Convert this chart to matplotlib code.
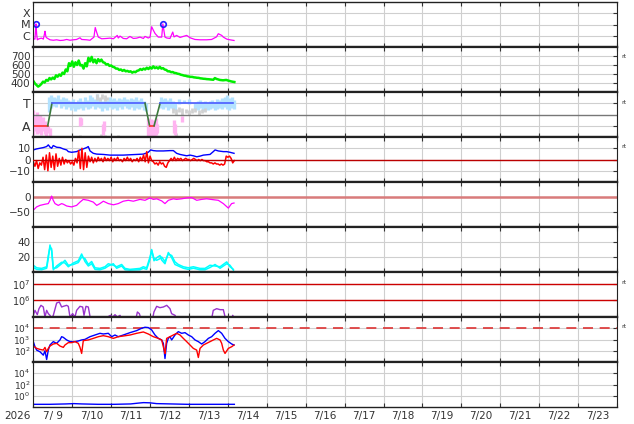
import numpy as np
import matplotlib
matplotlib.use("Agg")
import matplotlib.pyplot as plt
from matplotlib.ticker import NullLocator

# hours counted from 2026-07-09 00:00 UT, 15 days shown
days = [9, 10, 11, 12, 13, 14, 15, 16, 17, 18, 19, 20, 21, 22, 23]

# X-ray flux (log10 W/m2)
xray_hours = [0, 1.0, 1.4, 1.65, 2.1, 2.5, 3.5, 5.1, 6.2, 6.8, 7.2, 7.8, 8.2, 10.3, 12.3, 14.4, 16.5, 18.5,
              20.6, 22.6, 24.7, 26.7, 28.8, 29.8, 32.9, 35.0, 37.4, 38.2, 39.1, 40.1, 42.2, 45.2, 47.3, 49.4,
              51.8, 52.4, 53.5, 55.5, 57.6, 59.6, 61.7, 63.8, 65.8, 67.9, 68.9, 70.9, 72.0, 73.0, 74.0, 75.1,
              77.1, 79.2, 79.9, 81.2, 82.3, 84.3, 86.0, 86.8, 88.4, 90.5, 92.5, 94.6, 96.7, 99.7, 102.8,
              106.9, 110.0, 113.0, 114.1, 116.2, 117.2, 119.3, 121.3, 123.8]
xray_log = [-6.27, -6.3, -5.5, -4.95, -5.9, -6.36, -6.27, -6.21, -6.3, -5.9, -5.6, -6.1, -6.18, -6.36, -6.4,
            -6.36, -6.42, -6.4, -6.33, -6.4, -6.36, -6.33, -6.18, -6.33, -6.36, -6.4, -6.12, -5.27, -5.7,
            -6.12, -6.27, -6.24, -6.21, -6.27, -5.97, -6.2, -6.03, -6.24, -6.27, -6.06, -6.24, -6.21, -6.12,
            -6.24, -6.06, -6.2, -6.12, -5.2, -5.5, -5.8, -6.12, -6.12, -4.95, -6.12, -6.2, -6.24, -5.67,
            -6.1, -5.97, -6.15, -6.06, -5.97, -6.18, -6.33, -6.36, -6.36, -6.33, -6.1, -5.82, -5.97, -6.12,
            -6.3, -6.36, -6.42]
flare_hours = [1.65, 79.9]
flare_flux = [1.1e-5, 1.1e-5]

# solar wind speed (km/s), hourly
wind_speed = [423, 395, 377, 360, 372, 390, 415, 405, 434, 425, 455, 440, 460, 445, 485, 470, 495, 480, 515, 500,
              550, 530, 620, 590, 640, 580, 630, 600, 650, 595, 600, 560, 620, 585, 680, 640, 690, 630, 660, 620,
              665, 640, 660, 630, 625, 605, 610, 590, 595, 580, 575, 560, 560, 545, 550, 535, 545, 530, 535, 525,
              530, 515, 525, 520, 535, 540, 555, 545, 560, 550, 570, 555, 575, 560, 585, 565, 575, 560, 580, 560,
              565, 550, 545, 530, 530, 520, 522, 512, 510, 503, 500, 492, 488, 482, 480, 474, 472, 468, 468, 463,
              461, 458, 457, 452, 450, 447, 446, 443, 442, 440, 438, 436, 455, 445, 440, 434, 432, 430, 432, 434,
              428, 423, 418, 414, 411]

# sector polarity (T = +1, A = -1)
sector_line_hours = [0, 8.9, 11.5, 68.9, 71.7, 74.5, 78.2, 123.0]
sector_line_vals = [-1, -1, 1, 1, -1, -1, 1, 1]
sec_t_hours = [9.5, 11, 12.5, 14, 15.5, 17, 18.5, 20, 21.5, 23, 24.5, 26, 27.5, 29, 30.5, 32, 33.5, 35, 36.5, 38,
               39.5, 41, 42.5, 44, 45.5, 47, 48.5, 50, 51.5, 53, 54.5, 56, 57.5, 59, 60.5, 62, 63.5, 65, 66.5, 68,
               69.5, 78.5, 80, 81.5, 83, 84.5, 86, 87.5, 90, 93, 96, 100, 101.5, 103, 104.5, 106, 107.5, 109,
               110.5, 112, 113.5, 115, 116.5, 118, 119.5, 121, 122.5, 124]
sec_t_lo = [0.2, 0.6, 0.8, 0.7, 0.9, 0.6, 0.8, 0.5, 0.7, 0.4, 0.6, 0.3, 0.5, 0.6, 0.4, 0.7, 0.5, 0.6, 0.8, 0.5,
            0.7, 0.6, 0.3, 0.6, 0.4, 0.7, 0.5, 0.6, 0.4, 0.7, 0.5, 0.8, 0.6, 0.5, 0.7, 0.4, 0.6, 0.5, 0.7, 0.4,
            0.3, 0.6, 0.5, 0.7, 0.4, 0.6, 0.5, 0.4, 0.9, 1.0, 0.9, 0.5, 0.4, 0.6, 0.3, 0.5, 0.4, 0.5,
            0.6, 0.4, 0.5, 0.6, 0.5, 0.7, 0.5, 0.4, 0.6, 0.5]
sec_t_hi = [1.6, 1.7, 1.6, 1.5, 1.7, 1.4, 1.6, 1.5, 1.3, 1.2, 1.4, 1.1, 1.3, 1.5, 1.2, 1.6, 1.3, 1.7, 1.6, 1.4,
            1.8, 1.5, 1.2, 1.5, 1.3, 1.6, 1.4, 1.5, 1.3, 1.5, 1.4, 1.6, 1.4, 1.3, 1.5, 1.4, 1.6, 1.3, 1.5, 1.2,
            1.0, 1.6, 1.4, 1.5, 1.3, 1.5, 1.2, 1.1, 1.4, 1.3, 1.4, 1.0, 1.2, 1.3, 1.1, 1.2, 1.0, 1.2,
            1.3, 1.1, 1.4, 1.3, 1.5, 1.6, 1.7, 1.5, 1.6, 1.3]
sec_a_hours = [0, 1, 2, 3, 4, 5, 6, 7, 8, 9, 10, 28.5, 29.5, 43, 43.8, 70.5, 71.5, 72.5, 73.5, 74.5, 75.5, 76.5,
               86.5, 87.5, 91.5]
sec_a_lo = [-1.8, -1.5, -1.7, -1.4, -1.6, -1.8, -1.5, -1.7, -1.9, -1.6, -1.9, -1.0, -0.9, -1.8, -1.5, -1.9, -2.0,
            -1.9, -2.0, -1.9, -1.8, -1.6, -1.6, -1.8, -0.7]
sec_a_hi = [0.4, -0.1, 0.2, -0.3, 0.0, -0.4, -0.2, -0.6, -0.8, -1.0, -1.2, -0.2, -0.3, -0.8, -0.6, -0.3, -0.5,
            -0.4, -0.6, -0.5, -0.3, -0.8, -0.5, -0.8, -0.1]
sec_g_hours = [39.5, 41, 42.5, 44, 45.5, 86, 88, 90, 92, 94, 96, 98, 100, 102, 104, 106,
               29, 41.5, 44, 52, 72, 75, 88]
sec_g_lo = [1.3, 1.2, 1.4, 1.2, 1.3, 0.1, 0.0, 0.2, 0.0, 0.1, -0.05, 0.1, 0.2, 0.0, 0.1, 0.2,
            -2.0, -2.0, -2.0, -2.0, -2.0, -2.0, -1.9]
sec_g_hi = [1.8, 1.6, 1.8, 1.7, 1.6, 0.6, 0.5, 0.7, 0.6, 0.5, 0.4, 0.6, 0.6, 0.4, 0.5, 0.6,
            -1.8, -1.75, -1.8, -1.85, -1.85, -1.8, -1.6]

# IMF Bt and Bz (nT)
bt_hours = [0, 2.06, 4.1, 6.2, 8.2, 9.25, 10.3, 11.3, 12.3, 14.4, 16.5, 18.5, 20.6, 21.6, 23.6, 26.7, 28.8, 30.8,
            32.9, 33.9, 35.0, 37.0, 39.1, 43.2, 47.3, 51.4, 55.5, 59.6, 63.8, 67.9, 70.9, 72.4, 74.0, 76.1, 80.2,
            84.3, 86.4, 88.4, 90.5, 92.5, 94.6, 96.7, 98.7, 100.8, 102.8, 104.9, 109.0, 111.0, 112.1, 114.1,
            117.2, 119.3, 121.3, 123.8]
bt_vals = [8.5, 9.4, 10, 10.6, 11.5, 13, 11, 10, 12.4, 10.9, 10.6, 9.4, 8.5, 7, 6.4, 7, 8.5, 9.4, 10.6, 11.5,
           7.6, 5.5, 4.8, 4.5, 3.9, 3.9, 3.9, 4.2, 4.5, 4.8, 6.4, 8.5, 7.9, 7.6, 7.6, 7.9, 7.9, 5.5, 4.5, 3.9,
           3.3, 3.9, 3.3, 2.4, 3, 3.9, 4.5, 7, 8.5, 7.6, 7, 7, 6.4, 5.5]
bz_vals = [-2, -6, -1, -8, -3, -5, 2, -9, 4, -10, 6, -7, 3, -9, 5, -6, 1, -5, 2, -4,
           0, -3, -1, -4, -2, -5, 1, -3, 8, -8, 10, -9, 6, -7, 3, -2, 2, -3, 1, -2,
           2, -1, 1, -2, 2, -1, 1, -1, 2, -2, 1, -1, 2, -1, 0, -2, 1, -1, 2, -1,
           1, -2, 0, -1, 1, -2, 2, -1, 4, -2, 7, -3, 3, -1, -2, -4, -3, -5, -2, -4,
           -3, -6, -7, -3, -1, 1, -1, 2, -1, 1, 0, 1, -1, 0, 1, 0, 0, -1, 0, 1,
           0, -1, 0, -1, 0, -1, -1, -2, -2, -3, -3, -4, -3, -4, -4, -5, -4, -5, -4, 3,
           2, 3, 1, -3, -1]

# Dst (nT)
dst_hours = [0, 2.06, 4.1, 7.2, 9.25, 10.3, 11.3, 12.3, 13.4, 15.4, 17.5, 18.5, 20.6, 23.6, 26.7, 28.8, 30.8,
             33.9, 37.0, 39.1, 41.1, 43.2, 46.3, 49.4, 52.4, 55.5, 58.6, 61.7, 65.8, 68.9, 72.0, 74.0, 76.1,
             79.2, 81.2, 83.3, 86.4, 88.4, 91.5, 94.6, 97.7, 100.8, 103.8, 106.9, 111.0, 114.1, 117.2, 120.3,
             122.3, 123.8]
dst_vals = [-44, -33, -28, -24, -22, -11, 3, -11, -22, -28, -22, -24, -30, -33, -28, -17, -8, -11, -17, -28, -22,
            -14, -22, -26, -22, -14, -11, -14, -8, -11, -3, -8, -6, -13, -22, -11, -6, -8, -6, -3, -2, -11, -8,
            -6, -9, -11, -22, -37, -22, -20]

# AE-type index, two traces
idx_hours = [0, 2.06, 5.14, 8.23, 9.25, 10.28, 11.31, 12.34, 14.4, 17.48, 19.53, 21.59, 24.68, 27.76, 29.82,
             31.87, 33.93, 35.99, 38.04, 41.13, 44.21, 46.27, 49.35, 51.41, 54.49, 56.55, 59.63, 65.8, 67.86,
             69.91, 71.97, 73.0, 74.44, 76.09, 78.14, 79.17, 81.22, 83.28, 85.34, 87.39, 89.45, 92.53, 95.62,
             98.7, 102.8, 105.9, 109.0, 112.1, 115.2, 119.3, 121.3, 123.4]
idx_a = [9, 5.6, 4.8, 7, 22, 33, 31, 4.8, 5.6, 11, 15.6, 9, 10, 12.6, 20, 17.8, 10, 14, 5.6, 4.8, 7, 11, 9, 7, 10,
         4.8, 3.5, 4.8, 7, 5.6, 20, 28.7, 17.8, 15.6, 17.8, 20, 14, 24, 22, 13.5, 10, 7, 5.6, 7, 4.8, 4.8, 9, 8,
         7, 13.5, 7, 3.5]
idx_b = [6, 3.5, 3, 5, 18, 36, 28, 3, 8, 13, 12, 7, 12, 15, 24, 14, 8, 11, 3.5, 3, 5, 8, 11, 5, 8, 3, 2.5, 3,
         5, 3.5, 17, 30, 15, 19, 22, 16, 11, 26, 19, 10, 8, 5, 3.5, 5, 3, 3, 6, 10, 5, 11, 9, 2.5]

# >2 MeV electrons (log10)
elec_hours = [0, 1.03, 2.47, 3.5, 4.73, 6.17, 7.2, 8.23, 9.25, 10.28, 11.31, 12.34, 14.4, 16.04, 17.48, 18.51,
              20.56, 21.59, 22.62, 24.26, 25.7, 26.73, 28.79, 30.43, 31.26, 32.49, 33.93, 34.96, 37.0, 45.2,
              46.7, 47.7, 49.0, 50.4, 51.8, 53.5, 54.5, 63.3, 64.2, 65.4, 66.4, 73.6, 74.4, 76.1, 78.1, 80.2,
              82.3, 84.3, 85.3, 87.4, 88.4, 110.0, 111.0, 113.1, 115.2, 117.2, 118.2, 119.3, 122.4, 123.0, 123.8]
elec_log = [5.1, 5.4, 5.14, 5.5, 5.7, 5.6, 5.0, 5.4, 5.2, 5.1, 4.9, 5.1, 5.84, 5.9, 5.6, 5.64, 5.7, 5.64, 5.0,
            5.2, 5.0, 5.4, 5.64, 5.6, 5.1, 5.64, 5.6, 5.04, 4.8, 4.8, 5.06, 5.1, 5.0, 5.14, 5.0, 5.1, 4.8, 4.9,
            5.3, 5.2, 4.9, 4.9, 5.3, 5.64, 5.56, 5.6, 5.7, 5.5, 5.2, 5.1, 4.9, 4.9, 5.4, 5.5, 5.44, 5.44, 5.04,
            4.9, 4.9, 5.1, 4.95]

# protons, two channels (log10)
prot_b_hours = [0, 1.03, 2.06, 4.11, 6.17, 7.2, 8.23, 9.25, 10.28, 12.34, 14.4, 16.45, 17.48, 18.51, 20.56,
                22.62, 25.7, 27.76, 29.82, 31.87, 34.96, 38.04, 41.13, 43.18, 46.27, 48.32, 50.38, 52.44, 55.52,
                59.63, 63.75, 66.83, 68.89, 70.94, 73.0, 75.06, 77.11, 79.17, 80.2, 81.22, 82.25, 83.28, 84.31,
                85.34, 87.39, 89.45, 91.51, 93.56, 95.62, 97.68, 99.73, 101.79, 103.84, 105.9, 107.96, 110.01,
                112.07, 114.13, 116.18, 118.24, 120.3, 122.35, 123.79]
prot_b_log = [2.81, 2.36, 2.06, 1.91, 1.61, 2.0, 1.22, 2.06, 2.51, 2.81, 2.66, 2.96, 3.25, 3.19, 2.96, 2.81,
              2.81, 2.87, 2.96, 3.01, 3.25, 3.4, 3.55, 3.49, 3.55, 3.25, 3.4, 3.25, 3.4, 3.61, 3.79, 4.0, 4.09,
              4.06, 3.85, 3.4, 3.1, 2.96, 2.66, 1.31, 2.66, 3.1, 3.25, 2.96, 3.4, 3.7, 3.55, 3.61, 3.4, 3.25,
              2.96, 2.81, 2.6, 2.81, 3.1, 3.25, 3.55, 3.79, 3.55, 3.1, 2.81, 2.6, 2.51]
prot_r_hours = [0, 2.06, 4.11, 6.17, 7.2, 8.23, 9.25, 10.28, 12.34, 14.4, 16.45, 18.51, 19.53, 21.59, 23.65,
                25.7, 27.76, 28.8, 29.82, 30.84, 33.93, 37.01, 40.1, 43.18, 46.27, 49.35, 52.44, 55.52, 59.63,
                63.75, 67.86, 70.94, 74.03, 77.11, 79.17, 80.7, 81.22, 82.25, 84.31, 86.37, 88.42, 90.48, 92.53,
                94.59, 96.65, 98.7, 100.76, 101.79, 102.82, 104.87, 106.93, 108.99, 111.04, 113.1, 115.16,
                116.18, 117.21, 118.24, 120.3, 122.35, 123.79]
prot_r_log = [2.42, 2.21, 2.12, 2.06, 2.3, 1.91, 2.21, 2.42, 2.6, 2.66, 2.42, 2.3, 2.51, 2.72, 2.72, 2.81, 2.66,
              2.3, 1.76, 2.9, 2.96, 3.1, 3.25, 3.34, 3.25, 3.1, 3.25, 3.31, 3.4, 3.55, 3.67, 3.49, 3.25, 3.1,
              2.96, 2.06, 1.76, 3.1, 3.25, 3.4, 3.55, 3.4, 3.1, 2.81, 2.51, 2.21, 2.06, 1.4, 2.21, 2.51, 2.66,
              2.81, 2.96, 3.1, 2.96, 2.66, 2.06, 1.76, 2.21, 2.36, 2.51]

# bottom panel flux
low_hours = [0, 10, 20, 25, 30, 40, 50, 60, 65, 68, 72, 76, 85, 95, 105, 115, 124]
low_vals = [0.03, 0.03, 0.035, 0.04, 0.035, 0.03, 0.03, 0.035, 0.05, 0.06, 0.055, 0.04, 0.035, 0.03, 0.03,
            0.03, 0.03]

W, H = 634, 424
x0, x1 = 33.3, 617.0
tops = [2, 47, 92, 137, 182, 227, 272, 317, 362]
ph = 45
txt = "#333333"

fig = plt.figure(figsize=(W / 100, H / 100), dpi=100)
axes = []
for i, t in enumerate(tops):
    ax = fig.add_axes([x0 / W, 1 - (t + ph) / H, (x1 - x0) / W, ph / H])
    ax.set_xlim(0, 360)
    ax.set_xticks(np.arange(0, 361, 24))
    ax.tick_params(axis="x", direction="in", length=3, top=True, bottom=True, labelbottom=False,
                   color="#333333", width=0.8)
    ax.tick_params(axis="y", direction="in", length=3, right=True, left=False, labelsize=7.5,
                   labelcolor=txt, pad=2, color="#333333", width=0.8)
    ax.grid(True, color="#cfcfcf", lw=0.8)
    ax.set_axisbelow(True)
    ax.spines["left"].set_linewidth(0.8)
    ax.spines["right"].set_linewidth(0.8)
    ax.spines["top"].set_linewidth(1.0 if i == 0 else 1.6)
    ax.spines["bottom"].set_linewidth(1.0 if i == len(tops) - 1 else 1.6)
    for s in ax.spines.values():
        s.set_color("#222222")
    axes.append(ax)

# X-ray
ax = axes[0]
ax.set_yscale("log")
ax.plot(xray_hours, 10 ** np.array(xray_log), color="#ff00ff", lw=0.9)
ax.plot(flare_hours, flare_flux, "o", ms=4, mfc="none", mec="#2222ff", mew=1.2)
ax.set_ylim(1e-7, 1e-3)
ax.set_yticks([1e-6, 1e-5, 1e-4])
ax.set_yticklabels(["C", "M", "X"], fontsize=8)
ax.yaxis.set_minor_locator(NullLocator())

# solar wind
ax = axes[1]
ax.plot(np.arange(len(wind_speed)), wind_speed, color="#00ee00", lw=1.8)
ax.set_ylim(300, 800)
ax.set_yticks([400, 500, 600, 700])

# sector
ax = axes[2]
ax.vlines(sec_t_hours, sec_t_lo, sec_t_hi, color="#b3e2ff", lw=2.4)
ax.vlines(sec_g_hours, sec_g_lo, sec_g_hi, color="#d0d0d0", lw=2.0)
ax.vlines(sec_a_hours, sec_a_lo, sec_a_hi, color="#ffb3f0", lw=2.4)
ax.axhline(0, color="#777777", lw=1.0)
for i in range(len(sector_line_hours) - 1):
    v0, v1 = sector_line_vals[i], sector_line_vals[i + 1]
    if v0 != v1:
        c = "#3d7a3d"
    elif v0 > 0:
        c = "#4a5cff"
    else:
        c = "#ff3030"
    ax.plot(sector_line_hours[i:i + 2], sector_line_vals[i:i + 2], color=c, lw=1.2)
ax.set_ylim(-2, 2)
ax.set_yticks([1, -1])
ax.set_yticklabels(["T", "A"], fontsize=9)

# IMF
ax = axes[3]
ax.plot(bt_hours, bt_vals, color="#0000ff", lw=1.0)
ax.plot(np.arange(len(bz_vals)), bz_vals, color="#ff0000", lw=1.1)
ax.axhline(0, color="#bb0000", lw=1.0, zorder=3)
ax.set_ylim(-20, 20)
ax.set_yticks([10, 0, -10])

# Dst
ax = axes[4]
ax.axhline(0, color="#d97b7b", lw=1.8)
ax.plot(dst_hours, dst_vals, color="#ff00ff", lw=0.9)
ax.set_ylim(-100, 50)
ax.set_yticks([0, -50])

# index
ax = axes[5]
ax.plot(idx_hours, idx_a, color="#00ffff", lw=1.1)
ax.plot(idx_hours, idx_b, color="#00ffff", lw=1.1)
ax.set_ylim(0, 60)
ax.set_yticks([20, 40])

# electrons
ax = axes[6]
ax.set_yscale("log")
ax.axhline(1e6, color="#cc0000", lw=1.0)
ax.axhline(1e7, color="#cc0000", lw=1.0)
ax.plot(elec_hours, 10 ** np.array(elec_log), color="#9933cc", lw=1.0)
ax.set_ylim(1e5, 10 ** 7.7)
ax.set_yticks([1e6, 1e7])
ax.set_yticklabels([r"$10^{6}$", r"$10^{7}$"], fontsize=7)
ax.yaxis.set_minor_locator(NullLocator())

# protons
ax = axes[7]
ax.set_yscale("log")
ax.axhline(1e4, color="#dd3333", lw=1.2, dashes=(6, 4))
ax.plot(prot_b_hours, 10 ** np.array(prot_b_log), color="#0000ff", lw=1.0)
ax.plot(prot_r_hours, 10 ** np.array(prot_r_log), color="#ff0000", lw=1.0)
ax.set_ylim(1e1, 1e5)
ax.set_yticks([1e2, 1e3, 1e4])
ax.set_yticklabels([r"$10^{2}$", r"$10^{3}$", r"$10^{4}$"], fontsize=6.5)
ax.yaxis.set_minor_locator(NullLocator())

# bottom
ax = axes[8]
ax.set_yscale("log")
ax.plot(low_hours, low_vals, color="#0000ff", lw=1.0)
ax.set_ylim(1e-2, 1e6)
ax.set_yticks([1e0, 1e2, 1e4])
ax.set_yticklabels([r"$10^{0}$", r"$10^{2}$", r"$10^{4}$"], fontsize=6.5)
ax.yaxis.set_minor_locator(NullLocator())

for i in [1, 2, 3, 6, 7]:
    axes[i].text(1.008, 1 - 10 / 45, "rt", transform=axes[i].transAxes, fontsize=4.5,
                 va="center", ha="left", color=txt)

ax = axes[-1]
for k, d in enumerate(days):
    ax.text(12 + 24 * k, -0.2, f"7/{d:2d}", transform=ax.get_xaxis_transform(),
            ha="center", va="center", fontsize=7.5, color=txt)
fig.text(31 / W, 1 - 416 / H, "2026", ha="right", va="center", fontsize=7.5, color=txt)

fig.savefig("out.png", dpi=100, facecolor="white")
